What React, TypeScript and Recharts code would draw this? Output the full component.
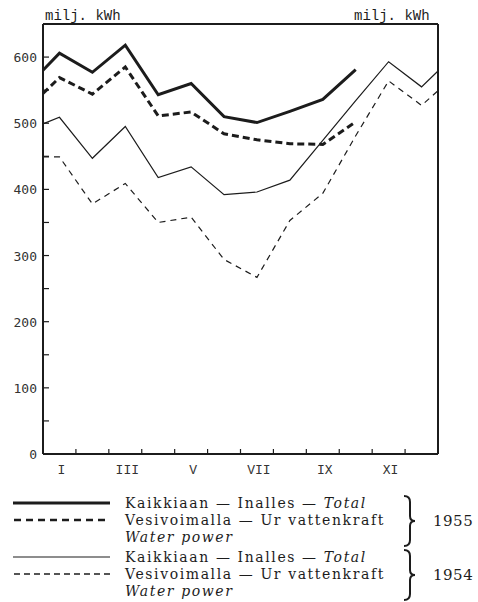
import { LineChart, Line, XAxis, YAxis, ReferenceLine } from 'recharts';

const INK = '#1c1c1c';

// x positions: 0.5 and 12.5 are where the lines meet the frame
const months = [0.5, 1, 2, 3, 4, 5, 6, 7, 8, 9, 10, 11, 12, 12.5];
const total1955 = [580, 606, 577, 618, 543, 560, 510, 501, 518, 536, 581, null, null, null];
const water1955 = [545, 569, 544, 585, 511, 517, 484, 475, 469, 468, 502, null, null, null];
const total1954 = [499, 509, 447, 495, 418, 434, 392, 396, 414, 474, 534, 593, 555, 579];
const water1954 = [449, 449, 378, 409, 350, 358, 294, 267, 353, 394, 481, 564, 527, 549];

const monthTicks = [1, 3, 5, 7, 9, 11];
const monthLabels = ['I', 'III', 'V', 'VII', 'IX', 'XI'];
const boundaryTicks = [1.5, 2.5, 3.5, 4.5, 5.5, 6.5, 7.5, 8.5, 9.5, 10.5, 11.5];
const valueTicks = [0, 50, 100, 150, 200, 250, 300, 350, 400, 450, 500, 550, 600];

const chartData = months.map((m, i) => ({
  m,
  t55: total1955[i],
  w55: water1955[i],
  t54: total1954[i],
  w54: water1954[i],
}));

const monoFont = '"DejaVu Sans Mono", monospace';
const typeFont = '"Liberation Mono", monospace';
const serifFont = '"DejaVu Serif", serif';

function MonthTick(props: any) {
  const { x, y, payload } = props;
  const idx = monthTicks.indexOf(payload.value);
  if (idx >= 0) {
    return (
      <text x={x + 2} y={y + 20} textAnchor="middle" fontFamily={typeFont} fontSize={13} fill="#333">
        {monthLabels[idx]}
      </text>
    );
  }
  return <line x1={x} x2={x} y1={y} y2={y - 5} stroke={INK} strokeWidth={1.2} />;
}

function LeftTick(props: any) {
  const { x, y, payload } = props;
  return (
    <g>
      <line x1={x} x2={x + 6} y1={y} y2={y} stroke={INK} strokeWidth={1.2} />
      {payload.value % 100 === 0 && (
        <text x={x - 6} y={y + 5} textAnchor="end" fontFamily={monoFont} fontSize={13} fill="#333">
          {payload.value}
        </text>
      )}
    </g>
  );
}

function RightTick(props: any) {
  const { x, y, payload } = props;
  return (
    <g>
      <line x1={x} x2={x - 5} y1={y} y2={y} stroke={INK} strokeWidth={1.2} />
      {payload.value % 100 === 0 && (
        <text x={x + 9} y={y + 5} textAnchor="start" fontFamily={monoFont} fontSize={13} fill="#333">
          {payload.value}
        </text>
      )}
    </g>
  );
}

function Brace({ x, top, bottom }: { x: number; top: number; bottom: number }) {
  const mid = (top + bottom) / 2;
  const d = `M ${x} ${top} Q ${x + 6} ${top} ${x + 6} ${top + 6} L ${x + 6} ${mid - 5} Q ${x + 6} ${mid} ${x + 11} ${mid}
    Q ${x + 6} ${mid} ${x + 6} ${mid + 5} L ${x + 6} ${bottom - 6} Q ${x + 6} ${bottom} ${x} ${bottom}`;
  return <path d={d} fill="none" stroke={INK} strokeWidth={2} />;
}

function LegendRows({ top, heavy, year }: { top: number; heavy: boolean; year: string }) {
  const w = heavy ? 3 : 1.1;
  return (
    <g fontFamily={serifFont} fontSize={14} fill={INK} letterSpacing={1.6}>
      <line x1={13} x2={110} y1={top - 5} y2={top - 5} stroke={INK} strokeWidth={w} />
      <text x={125} y={top}>
        Kaikkiaan — Inalles — <tspan fontStyle="italic">Total</tspan>
      </text>
      <line
        x1={14}
        x2={110}
        y1={top + 12}
        y2={top + 12}
        stroke={INK}
        strokeWidth={heavy ? 2.6 : 1.3}
        strokeDasharray={heavy ? '7 5' : '6 4'}
      />
      <text x={125} y={top + 17}>Vesivoimalla — Ur vattenkraft</text>
      <text x={125} y={top + 34} fontStyle="italic">Water power</text>
      <Brace x={404} top={top - 12} bottom={top + 38} />
      <text x={433} y={top + 18} fontSize={15} letterSpacing={0.5}>{year}</text>
    </g>
  );
}

export default function App() {
  return (
    <div style={{ position: 'absolute', left: 0, top: 0, width: 478, height: 602, background: '#fff' }}>
      <LineChart width={478} height={480} data={chartData} margin={{ top: 24, right: 0, bottom: 0, left: 0 }}>
        <XAxis
          dataKey="m"
          type="number"
          domain={[0.5, 12.5]}
          ticks={[...boundaryTicks, ...monthTicks]}
          interval={0}
          tick={MonthTick}
          tickLine={false}
          tickSize={0}
          tickMargin={0}
          height={26}
          axisLine={{ stroke: INK, strokeWidth: 2 }}
        />
        <YAxis
          yAxisId="l"
          domain={[0, 650]}
          ticks={valueTicks}
          interval={0}
          tick={LeftTick}
          tickLine={false}
          tickSize={0}
          tickMargin={0}
          width={43}
          axisLine={{ stroke: INK, strokeWidth: 2 }}
        />
        <YAxis
          yAxisId="r"
          orientation="right"
          domain={[0, 650]}
          ticks={valueTicks}
          interval={0}
          tick={RightTick}
          tickLine={false}
          tickSize={0}
          tickMargin={0}
          width={40}
          axisLine={{ stroke: INK, strokeWidth: 2 }}
        />
        <ReferenceLine yAxisId="l" y={650} stroke={INK} strokeWidth={2} />
        <Line yAxisId="l" type="linear" dataKey="w54" stroke={INK} strokeWidth={1.2} strokeDasharray="6 5" dot={false} activeDot={false} isAnimationActive={false} />
        <Line yAxisId="l" type="linear" dataKey="t54" stroke={INK} strokeWidth={1.2} dot={false} activeDot={false} isAnimationActive={false} />
        <Line yAxisId="l" type="linear" dataKey="w55" stroke={INK} strokeWidth={3} strokeDasharray="7 4" dot={false} activeDot={false} isAnimationActive={false} />
        <Line yAxisId="l" type="linear" dataKey="t55" stroke={INK} strokeWidth={3} dot={false} activeDot={false} isAnimationActive={false} />
      </LineChart>
      <svg width={478} height={602} style={{ position: 'absolute', left: 0, top: 0, pointerEvents: 'none' }}>
        <text x={45} y={20} fontFamily={typeFont} fontSize={14} fill={INK}>milj. kWh</text>
        <text x={354} y={20} fontFamily={typeFont} fontSize={14} fill={INK}>milj. kWh</text>
        <LegendRows top={508} heavy={true} year="1955" />
        <LegendRows top={562} heavy={false} year="1954" />
      </svg>
    </div>
  );
}
